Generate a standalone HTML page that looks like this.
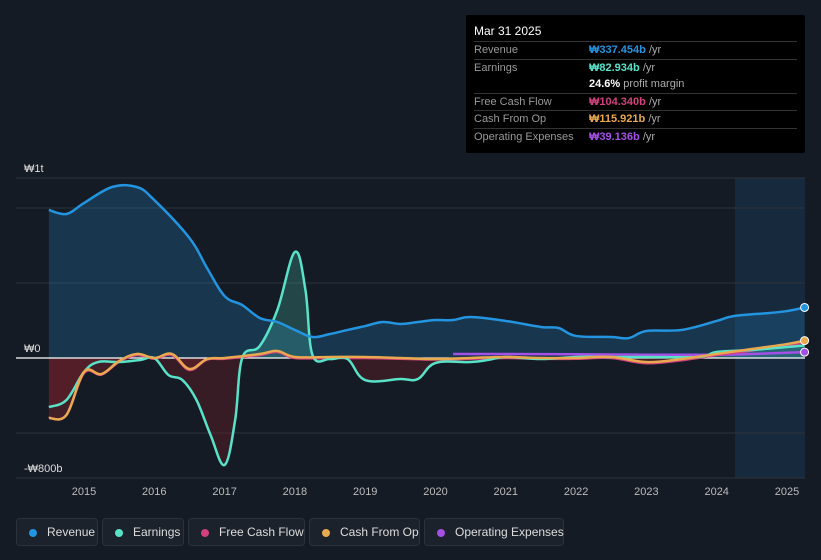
<!DOCTYPE html>
<html><head><meta charset="utf-8">
<style>
body{margin:0;background:#151b24;width:821px;height:560px;overflow:hidden;font-family:"Liberation Sans",sans-serif;}
#tip{position:absolute;left:466px;top:15px;width:339px;height:138px;background:#000;border-radius:2px;font-size:11px;}
#tip .h{color:#fff;font-size:12px;padding:9px 0 0 8px;height:17px;}
#tip .r{display:flex;border-top:1px solid #333;margin:0 8px;height:16.5px;line-height:16.5px}
#tip .r span:first-child{width:115px;color:#999}
.leg{position:absolute;top:518px;height:28px;border:1px solid #2a323d;background:#1b222c;border-radius:4px;color:#ddd;font-size:12px;line-height:26px;box-sizing:border-box;padding-left:30px;white-space:nowrap}
.leg i{position:absolute;left:12px;top:10px;width:8px;height:8px;border-radius:50%}
</style></head><body>
<svg id="c" width="821" height="560" style="position:absolute;left:0;top:0"></svg>
<div id="tip">
<div class="h">Mar 31 2025</div>
<div class="r"><span>Revenue</span><span><b style="color:#2394df">₩337.454b</b> <span style="color:#aaa">/yr</span></span></div>
<div class="r"><span>Earnings</span><span><b style="color:#58e3c9">₩82.934b</b> <span style="color:#aaa">/yr</span></span></div>
<div class="r" style="border:none"><span></span><span><b style="color:#fff">24.6%</b> <span style="color:#aaa">profit margin</span></span></div>
<div class="r"><span>Free Cash Flow</span><span><b style="color:#d3407f">₩104.340b</b> <span style="color:#aaa">/yr</span></span></div>
<div class="r"><span>Cash From Op</span><span><b style="color:#e8a94f">₩115.921b</b> <span style="color:#aaa">/yr</span></span></div>
<div class="r"><span>Operating Expenses</span><span><b style="color:#a450e6">₩39.136b</b> <span style="color:#aaa">/yr</span></span></div>
</div>
<div class="leg" style="left:16px;width:82px"><i style="background:#2394df"></i>Revenue</div>
<div class="leg" style="left:102px;width:82px"><i style="background:#58e3c9"></i>Earnings</div>
<div class="leg" style="left:188px;width:117px"><i style="background:#d3407f"></i>Free Cash Flow</div>
<div class="leg" style="left:309px;width:111px"><i style="background:#e8a94f"></i>Cash From Op</div>
<div class="leg" style="left:424px;width:140px"><i style="background:#a450e6"></i>Operating Expenses</div>
<script>
const revT=[2014.5,2014.75,2015,2015.4,2015.75,2016,2016.5,2016.75,2017,2017.25,2017.5,2017.75,2018,2018.25,2018.5,2018.75,2019,2019.25,2019.5,2019.75,2020,2020.25,2020.5,2021,2021.5,2021.75,2022,2022.5,2022.75,2023,2023.5,2024,2024.25,2024.75,2025,2025.25];
const revV=[987,960,1033,1140,1140,1053,800,600,413,353,267,240,187,140,160,187,213,240,227,240,253,253,273,247,207,200,147,140,133,180,187,247,280,300,313,337];
const earnT=[2014.5,2014.75,2015,2015.2,2015.5,2015.8,2016,2016.2,2016.4,2016.6,2016.8,2017,2017.15,2017.25,2017.5,2017.75,2018,2018.15,2018.25,2018.5,2018.75,2019,2019.5,2019.75,2020,2020.5,2020.75,2021,2021.5,2022,2022.5,2023,2023.75,2024,2024.5,2025,2025.25];
const earnV=[-327,-280,-93,-27,-27,-13,0,-113,-147,-280,-513,-713,-413,0,80,320,707,453,20,-7,-7,-147,-140,-140,-33,-27,-13,7,-7,7,7,7,7,40,53,73,83];
const cfoT=[2014.5,2014.75,2015,2015.25,2015.5,2015.75,2016,2016.25,2016.5,2016.75,2017,2017.5,2017.75,2018,2018.5,2019,2019.5,2020,2020.5,2021,2021.5,2022,2022.5,2023,2023.5,2024,2024.5,2025,2025.25];
const cfoV=[-400,-380,-93,-107,-20,27,0,27,-73,-7,0,27,47,7,7,7,0,-7,0,7,0,0,7,-27,-7,27,60,93,116];
const fcfV=[-400,-380,-100,-110,-25,20,-5,20,-80,-10,-5,20,40,0,0,0,-5,-10,-5,0,-5,-5,0,-35,-15,20,50,85,104];
const opexT=[2020.25,2021,2022,2023,2024,2024.5,2025,2025.25];
const opexV=[27,27,25,22,22,27,35,39];
const yTicks=[{v:1200,l:"₩1t"},{v:0,l:"₩0"},{v:-800,l:"-₩800b"}];
const years=[2015,2016,2017,2018,2019,2020,2021,2022,2023,2024,2025];
const svg=document.getElementById('c'),NS='http://www.w3.org/2000/svg';
const X=t=>84+(t-2015)*70.3, Y=v=>358-v*0.15;
function el(n,a,parent){const e=document.createElementNS(NS,n);for(const k in a)e.setAttribute(k,a[k]);(parent||svg).appendChild(e);return e;}
let e;
const defs=el('defs',{});
const cpA=el('clipPath',{id:'above'},defs);el('rect',{x:0,y:0,width:821,height:358},cpA);
const cpB=el('clipPath',{id:'below'},defs);el('rect',{x:0,y:358,width:821,height:200},cpB);
e=el('rect',{x:735,y:178,width:70,height:300,fill:'#1a3550',opacity:0.55});


[178,208,283,433,478].forEach(y=>{e=el('line',{x1:16,x2:805,y1:y,y2:y,stroke:'#2c333d'});

});
yTicks.forEach(t=>{const y=t.v===1200?172:Y(t.v)-6;e=el('text',{x:24,y:y,fill:'#ddd','font-size':11});e.textContent=t.l;

});
years.forEach(yr=>{e=el('text',{x:X(yr),y:495,fill:'#bbb','font-size':11,'text-anchor':'middle'});e.textContent=yr;

});
function pts(T,V){return T.map((t,i)=>[X(t),Y(V[i])]);}
function smooth(p){let d='M'+p[0][0]+','+p[0][1];const k=0.18;
for(let i=0;i<p.length-1;i++){const p0=p[Math.max(0,i-1)],p1=p[i],p2=p[i+1],p3=p[Math.min(p.length-1,i+2)];
const c1=[p1[0]+(p2[0]-p0[0])*k,p1[1]+(p2[1]-p0[1])*k],c2=[p2[0]-(p3[0]-p1[0])*k,p2[1]-(p3[1]-p1[1])*k];
d+=` C${c1[0]},${c1[1]} ${c2[0]},${c2[1]} ${p2[0]},${p2[1]}`;}return d;}
function area(T,V,fill,name,clip){const p=pts(T,V);const a={d:smooth(p)+` L${p[p.length-1][0]},358 L${p[0][0]},358 Z`,fill:fill};if(clip)a['clip-path']=`url(#${clip})`;e=el('path',a);

}
function line(T,V,c,name){e=el('path',{d:smooth(pts(T,V)),fill:'none',stroke:c,'stroke-width':2.5,'stroke-linejoin':'round'});

}
area(revT,revV,'rgba(35,148,223,0.22)','revenue-area');
area(cfoT,fcfV,'rgba(150,40,50,0.35)','fcf-area','below');
area(earnT,earnV,'rgba(88,227,201,0.22)','earnings-area-positive','above');
area(earnT,earnV,'rgba(120,30,40,0.35)','earnings-area-negative','below');
e=el('line',{x1:16,x2:805,y1:358,y2:358,stroke:'#fff','stroke-width':1.2});


line(opexT,opexV,'#a450e6','opex-line');
line(cfoT,fcfV,'#d3407f','fcf-line');
line(earnT,earnV,'#58e3c9','earnings-line');
line(cfoT,cfoV,'#e8a94f','cfo-line');
line(revT,revV,'#2394df','revenue-line');
[[revT,revV,'#2394df'],[cfoT,cfoV,'#e8a94f'],[opexT,opexV,'#a450e6']].forEach(s=>{const n=s[0].length-1;e=el('circle',{cx:X(s[0][n]),cy:Y(s[1][n]),r:4,fill:s[2],stroke:'#fff','stroke-width':1});

});
</script>
</body></html>
